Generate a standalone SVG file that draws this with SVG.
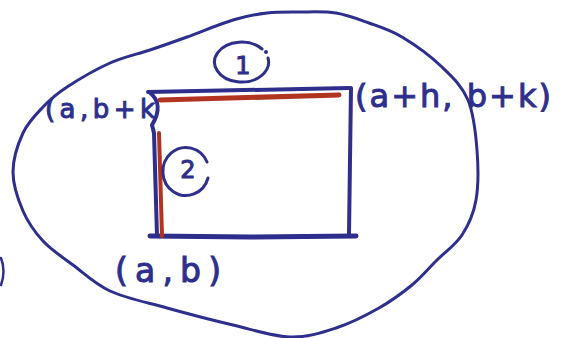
<svg xmlns="http://www.w3.org/2000/svg" width="569" height="338" viewBox="0 0 569 338">
<style>
.ink{fill:none;stroke:#2e2e8c;stroke-linecap:round;stroke-linejoin:round}
.red{fill:none;stroke:#b0341f;stroke-linecap:round}
.lbl{font-family:"DejaVu Sans","Liberation Sans",sans-serif;fill:#2e2e8c;stroke:#2e2e8c;stroke-width:1}
</style>
<rect width="569" height="338" fill="#ffffff"/>
<g id="region">
<path class="ink" stroke-width="3" d="M300,12 C311.5,12 324.5,11.2 336,13 C347.5,14.8 358,19 369,23 C380,27 389.8,29.7 402,37 C414.2,44.3 431,56.5 442,67 C453,77.5 462.2,86.2 468,100 C473.8,113.8 475.7,133.3 477,150 C478.3,166.7 478.5,185.8 476,200 C473.5,214.2 468.7,224.8 462,235 C455.3,245.2 444.3,252.7 436,261 C427.7,269.3 421.5,277.2 412,285 C402.5,292.8 391.7,300.8 379,308 C366.3,315.2 350.8,323.2 336,328 C321.2,332.8 307.2,337.5 290,337 C272.8,336.5 253.5,329.8 233,325 C212.5,320.2 187.5,313.7 167,308 C146.5,302.3 125.7,298.2 110,291 C94.3,283.8 84.2,273.3 73,265 C61.8,256.7 51.3,250 43,241 C34.7,232 28,222.5 23,211 C18,199.5 13,185 13,172 C13,159 18,143.8 23,133 C28,122.2 35.7,114.7 43,107 C50.3,99.3 55.8,94.3 67,87 C78.2,79.7 96.2,69.2 110,63 C123.8,56.8 137.2,54.3 150,50 C162.8,45.7 173.2,42 187,37 C200.8,32 219.7,24 233,20 C246.3,16 255.8,14.3 267,13 C278.2,11.7 288.5,12 300,12 Z"/>
<path class="ink" stroke-width="2.5" d="M1,258 Q6,271 1,285"/>
</g>
<g id="rectangle">
<path class="ink" stroke-width="4" d="M148,92 L349,88"/>
<path class="ink" stroke-width="4" d="M351,88 L350,160 L349,234"/>
<path class="ink" stroke-width="5" d="M150,236 L250,237 L356,236"/>
<path class="ink" stroke-width="4" d="M149,92 C160,100 160,112 152,125 L154,133 L157,236"/>
</g>
<g id="edge1">
<path class="red" stroke-width="5" d="M160,100 L339,95"/>
<path class="ink" stroke-width="3" d="M262,49 A27,20 0 1 0 268,58"/>
<circle cx="266" cy="52" r="2" fill="#2e2e8c"/>
<text class="lbl" x="243" y="74" font-size="24" stroke-width="1.6" text-anchor="middle">1</text>
</g>
<g id="edge2">
<path class="red" stroke-width="4" d="M159,133 L162,236"/>
<path class="ink" stroke-width="3" d="M207,162 A23,24 0 1 0 208,178"/>
<text class="lbl" x="188" y="178" font-size="24" stroke-width="1.6" text-anchor="middle">2</text>
</g>
<g id="labels">
<text class="lbl" x="45" y="118" font-size="26" textLength="110" lengthAdjust="spacing">(a,b+k</text>
<text class="lbl" x="355" y="107" font-size="32" textLength="196" lengthAdjust="spacing">(a+h, b+k)</text>
<text class="lbl" x="115" y="282" font-size="33" textLength="106" lengthAdjust="spacing">(a,b)</text>
</g>
</svg>
